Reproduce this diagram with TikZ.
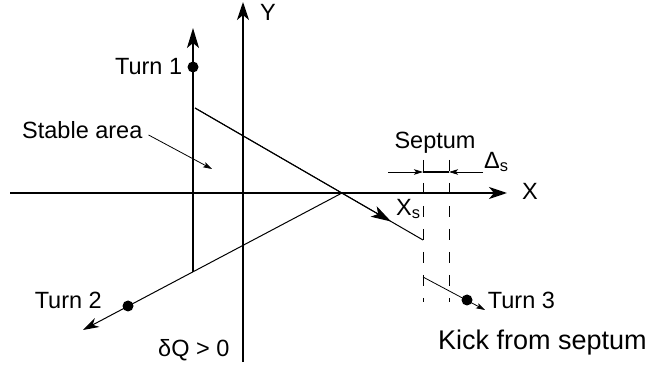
\documentclass[tikz,border=0pt]{standalone}
\usepackage{fontspec}
\setmainfont{Liberation Sans}
\usetikzlibrary{arrows.meta, positioning, calc}

\begin{document}
\begin{tikzpicture}[
        x=1pt, y=-1pt,
        axisline/.style={line width=2pt, -{Stealth[length=18pt, width=12pt, inset=5pt]}},
        orbit/.style={line width=1pt},
        bigtip/.style={-{Stealth[length=20pt, width=12pt, inset=5pt]}},
        smalltip/.style={line width=0.8pt, -{Stealth[length=9pt, width=5.5pt, inset=2pt]}},
        septum/.style={line width=1pt, dash pattern=on 11pt off 12pt},
        particle/.style={circle, fill=black, inner sep=0pt, minimum size=11pt},
        txt/.style={font=\fontsize{23.5}{28}\selectfont, inner sep=0pt}
    ]
        \useasboundingbox (0,0) rectangle (648,371);

        % Axes
        \coordinate (xl) at (10,193);
        \coordinate (xr) at (507,193);
        \coordinate (yb) at (243,362);
        \coordinate (yt) at (243,2);
        \draw[axisline] (xl) -- (xr);
        \draw[axisline] (yb) -- (yt);
        \node[txt] (xlbl) at (530,191) {X};
        \node[txt] (ylbl) at (268,12) {Y};

        % Turn 1
        \coordinate (t1b) at (193,272);
        \coordinate (t1t) at (193,28);
        \draw[line width=1.4pt, bigtip] (t1b) -- (t1t);
        \node[particle] (t1) at (193,67) {};
        \node[txt, left=5pt of t1] (t1lbl) {Turn 1};

        % Turn 1 -> Turn 2 -> Turn 3
        \coordinate (ua) at (195,108);
        \coordinate (ub) at (423,240);
        \draw[orbit] (ua) -- (ub);
        \draw[orbit, bigtip] (ua) -- ($(ua)!0.86!(ub)$);
        \node[txt, anchor=west] (xslbl) at (396,209) {X\textsubscript{s}};

        \coordinate (cx) at (342,193);
        \coordinate (t2tip) at (83,330);
        \draw[orbit, -{Stealth[length=16pt, width=10pt, inset=5pt]}] (cx) -- (t2tip);
        \node[particle] (t2) at (128,306) {};
        \node[txt, anchor=east] (t2lbl) at (102,300) {Turn 2};

        % Septum
        \coordinate (s1t) at (423,160);
        \coordinate (s1b) at (423,302);
        \coordinate (s2t) at (449,160);
        \coordinate (s2b) at (449,302);
        \draw[septum] (s1t) -- (s1b);
        \draw[septum] (s2t) -- (s2b);
        \coordinate (bl) at (423,172);
        \coordinate (br) at (449,172);
        \draw[line width=2pt] (bl) -- (br);
        \coordinate (al) at (388,172);
        \coordinate (ar) at (483,172);
        \draw[smalltip] (al) -- (bl);
        \draw[smalltip] (ar) -- (br);
        \node[txt] (septlbl) at (435,143) {Septum};
        \node[txt, anchor=west] (dlbl) at (484,162) {Δ\textsubscript{s}};

        % Kick
        \coordinate (k0) at (423,277);
        \coordinate (k1) at (485,310);
        \draw[orbit, smalltip] (k0) -- (k1);
        \node[particle] (t3) at (467,300) {};
        \node[txt, right=15pt of t3] (t3lbl) {Turn 3};
        \node[txt, font=\fontsize{27}{32}\selectfont, anchor=west] (kick) at (438,343) {Kick from septum};

        % Labels
        \node[txt, anchor=west] (stbl) at (22,130) {Stable area};
        \coordinate (sa1) at (212,169);
        \draw[smalltip] ([xshift=6pt, yshift=-5pt]stbl.east) -- (sa1);
        \node[txt, anchor=west] (dq) at (158,350) {δQ > 0};
    \end{tikzpicture}
\end{document}
